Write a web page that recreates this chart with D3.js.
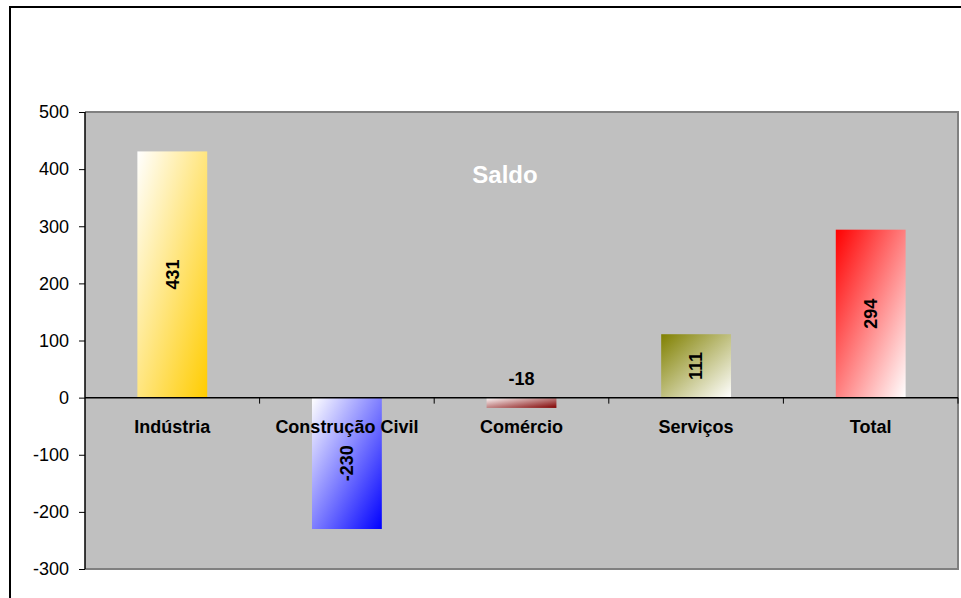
<!DOCTYPE html>
<html><head><meta charset="utf-8">
<script src="https://cdn.jsdelivr.net/npm/d3@7"></script>
<style>
html,body{margin:0;padding:0;background:#fff;overflow:hidden}
svg{display:block;font-family:"Liberation Sans",Arial,sans-serif}
</style></head>
<body><svg id="c" width="961" height="598"></svg>
<script>
const categories = ["Indústria","Construção Civil","Comércio","Serviços","Total"];
const values = [431,-230,-18,111,294];
const yTicks = [500,400,300,200,100,0,-100,-200,-300];
const title = "Saldo";
// gradient (start colour at top-left, end colour at bottom-right)
const gradStart = ["#ffffff","#ffffff","#ffffff","#808000","#ff0000"];
const gradEnd   = ["#ffcc00","#0000ff","#800000","#ffffff","#ffffff"];

const svg = d3.select("#c");
const L = 85, R = 958, T = 112, B = 569;

// outer frame
svg.append("rect").attr("x",10).attr("y",7).attr("width",1000).attr("height",1000)
  .attr("fill","none").attr("stroke","#000").attr("stroke-width",2);

const x = d3.scaleBand().domain(categories).range([L,R]).paddingInner(0).paddingOuter(0);
const y = d3.scaleLinear().domain([-300,500]).range([B,T]);

// plot area
svg.append("rect").attr("x",L).attr("y",T).attr("width",R-L).attr("height",B-T)
  .attr("fill","#c0c0c0");
svg.append("path").attr("d",`M${L},${T}H${R}V${B}H${L}`)
  .attr("fill","none").attr("stroke","#808080").attr("stroke-width",2);

// gradients
const defs = svg.append("defs");
categories.forEach((c,i)=>{
  const g = defs.append("linearGradient").attr("id","g"+i)
    .attr("x1",0).attr("y1",0).attr("x2",1).attr("y2",1);
  g.append("stop").attr("offset","0%").attr("stop-color",gradStart[i]);
  g.append("stop").attr("offset","100%").attr("stop-color",gradEnd[i]);
});

// bars
const bw = x.bandwidth()*0.4;
const bars = categories.map((c,i)=>({c,i,v:values[i]}));
svg.append("g").selectAll("rect").data(bars).join("rect")
  .attr("x",d=>x(d.c)+x.bandwidth()/2-bw/2)
  .attr("y",d=>y(Math.max(0,d.v)))
  .attr("width",bw)
  .attr("height",d=>Math.abs(y(d.v)-y(0)))
  .attr("fill",d=>`url(#g${d.i})`);

// y axis
const yAxis = d3.axisLeft(y).tickValues(yTicks).tickSize(6).tickPadding(10).tickFormat(d=>String(d));
const ya = svg.append("g").attr("transform",`translate(${L},0)`).call(yAxis);
ya.select(".domain").attr("stroke","#000").attr("stroke-width",1.5).attr("d",`M0,${T}V${B}`);
ya.selectAll(".tick line").attr("stroke","#000");
ya.selectAll("text").attr("font-size",18).attr("fill","#000")
  .attr("font-family","'Liberation Sans',Arial,sans-serif");

// x axis at zero
const xa = svg.append("g").attr("transform",`translate(0,${y(0)})`);
xa.append("line").attr("x1",L).attr("x2",R).attr("y1",0).attr("y2",0)
  .attr("stroke","#000").attr("stroke-width",1.5);
const bounds = categories.slice(1).map(c=>x(c)).concat([R]);
xa.selectAll("line.t").data(bounds).join("line").attr("class","t")
  .attr("x1",d=>d).attr("x2",d=>d).attr("y1",0).attr("y2",6).attr("stroke","#000");
xa.selectAll("text").data(categories).join("text")
  .attr("x",d=>x(d)+x.bandwidth()/2).attr("y",35)
  .attr("text-anchor","middle").attr("font-size",18).attr("font-weight","bold")
  .attr("fill","#000").text(d=>d);

// data labels
const lab = svg.append("g");
bars.forEach(d=>{
  const cx = x(d.c)+x.bandwidth()/2;
  const h = Math.abs(y(d.v)-y(0));
  const cy = (y(d.v)+y(0))/2;
  if (h > 40) {
    lab.append("text").attr("transform",`translate(${cx},${cy}) rotate(-90)`)
      .attr("text-anchor","middle").attr("dy","0.35em")
      .attr("font-size",18).attr("font-weight","bold").attr("fill","#000")
      .text(String(d.v));
  } else {
    lab.append("text").attr("x",cx).attr("y",y(0)-13)
      .attr("text-anchor","middle")
      .attr("font-size",18).attr("font-weight","bold").attr("fill","#000")
      .text(String(d.v));
  }
});

// title
svg.append("text").attr("x",505).attr("y",183).attr("text-anchor","middle")
  .attr("font-size",24).attr("font-weight","bold").attr("fill","#fff").text(title);
</script></body></html>
